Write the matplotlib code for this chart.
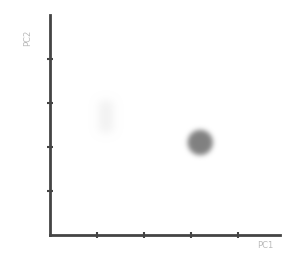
import numpy as np
import matplotlib
matplotlib.use("Agg")
import matplotlib.pyplot as plt
from matplotlib.colors import to_rgb

# point values
pc1 = [3.2]
pc2 = [2.1]
faint_x = [1.2]
faint_y = [2.7]
xticks = [1, 2, 3, 4]
yticks = [1, 2, 3, 4]


def blur(sigma, color):
    rgb = to_rgb(color)

    def f(im, dpi):
        pad = int(sigma * 3)
        a = np.pad(im[..., 3], pad)
        k = np.exp(-0.5 * (np.arange(-pad, pad + 1) / sigma) ** 2)
        k = k / k.sum()
        for ax_ in (0, 1):
            a = np.apply_along_axis(lambda m: np.convolve(m, k, mode="same"), ax_, a)
        out = np.zeros(a.shape + (4,))
        out[..., :3] = rgb
        out[..., 3] = a
        return out, -pad, -pad
    return f


fig = plt.figure(figsize=(2.96, 2.57), dpi=100)
ax = fig.add_axes([0.169, 0.086, 0.777, 0.856])
ax.set_xlim(0, 4.9)
ax.set_ylim(0, 5)

s = ax.scatter(pc1, pc2, s=330, color="#808080", edgecolors="none")
s.set_agg_filter(blur(1.8, "#808080"))
tall = [(-0.45, -1), (0.45, -1), (0.45, 1), (-0.45, 1), (-0.45, -1)]
f = ax.scatter(faint_x, faint_y, s=500, color="#f2f2f2", marker=tall, edgecolors="none")
f.set_agg_filter(blur(3, "#f2f2f2"))

for side in ["top", "right"]:
    ax.spines[side].set_visible(False)
for side in ["left", "bottom"]:
    ax.spines[side].set_linewidth(2)
    ax.spines[side].set_color("#444444")

ax.set_xticks(xticks)
ax.set_yticks(yticks)
ax.set_xticklabels([])
ax.set_yticklabels([])
ax.tick_params(direction="inout", length=4, width=1.5, color="#444444")

fig.text(28 / 296, 1 - 38 / 257, "PC2", rotation=90, fontsize=6, color="#bbbbbb",
         ha="center", va="center")
fig.text(265 / 296, 1 - 246 / 257, "PC1", fontsize=6, color="#bbbbbb",
         ha="center", va="center")

fig.savefig("out.png", dpi=100)
